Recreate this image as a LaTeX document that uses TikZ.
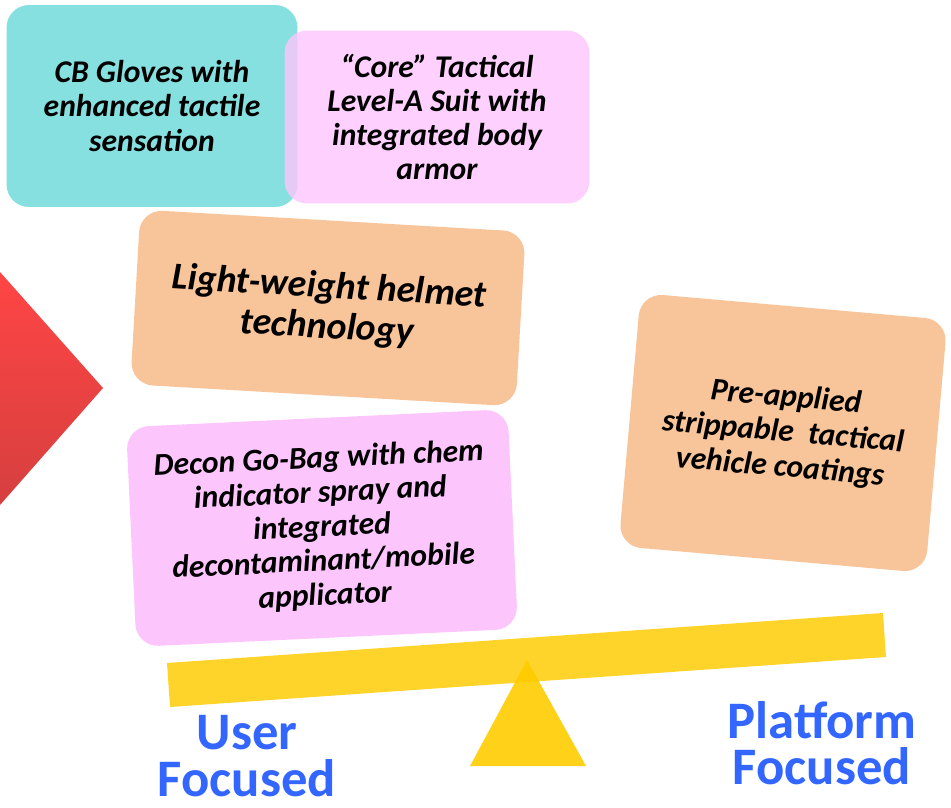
\documentclass[tikz,border=0pt]{standalone}
\usepackage{fontspec}
\setmainfont{Carlito}
\usetikzlibrary{positioning}
\definecolor{gloveteal}{HTML}{86E0DF}
\definecolor{suitpink}{HTML}{FCC6FC}
\definecolor{helmorange}{HTML}{F8C49A}
\definecolor{beamyellow}{HTML}{FFD21F}
\definecolor{pivotyellow}{HTML}{FFCC00}
\definecolor{sideblue}{HTML}{3366FF}
\definecolor{redtop}{HTML}{FF4545}
\definecolor{redbot}{HTML}{D63F3F}

\begin{document}
\begin{tikzpicture}[x=0.02cm,y=-0.02cm,
    item/.style={rounded corners=0.45cm,align=center,inner sep=0pt,
      font=\fontsize{18}{19.5}\selectfont\bfseries\itshape},
    side/.style={align=center,text=sideblue,font=\fontsize{30}{26.5}\selectfont\bfseries}]
  \useasboundingbox (0,0) rectangle (951,808);
  % red marker on the left edge
  \begin{scope}
    \clip (0,0) rectangle (951,808);
    \shade[top color=redtop,bottom color=redbot] (-120,272) -- (0,272) -- (103,388) -- (0,505) -- (-120,505) -- cycle;
  \end{scope}
  % cards
  \node[item,fill=gloveteal,minimum width=5.82cm,minimum height=4.04cm] (gloves) at (152,106) {CB Gloves with\\enhanced tactile\\sensation};
  \node[item,fill=suitpink,fill opacity=0.82,text opacity=1,minimum width=6.1cm,minimum height=3.46cm] (suit) at (437,117) {“Core” Tactical\\Level-A Suit with\\integrated body\\armor};
  \node[item,fill=helmorange,rotate=-3.3,minimum width=7.72cm,minimum height=3.5cm,
    font=\fontsize{21.5}{23}\selectfont\bfseries\itshape] (helmet) at (328,308) {Light-weight helmet\\technology};
  \node[item,fill=suitpink,rotate=2.7,minimum width=7.64cm,minimum height=4.4cm] (gobag) at (322,528) {Decon Go-Bag with chem\\indicator spray and\\integrated\\decontaminant/mobile\\applicator};
  \node[item,fill=helmorange,rotate=-5,minimum width=6.16cm,minimum height=5.08cm,
    font=\fontsize{18}{20}\selectfont\bfseries\itshape] (coatings) at (783,433) {Pre-applied\\strippable~ tactical\\vehicle coatings};
  % seesaw
  \fill[beamyellow,fill opacity=0.95] (167,663) -- (883,613) -- (886,657) -- (170,707) -- cycle;
  \fill[pivotyellow,fill opacity=0.9] (527,660) -- (586,766) -- (470,766) -- cycle;
  \node[side] (user) at (247,756) {User\\Focused};
  \node[side] (platform) at (822,743) {Platform\\Focused};
\end{tikzpicture}
\end{document}
